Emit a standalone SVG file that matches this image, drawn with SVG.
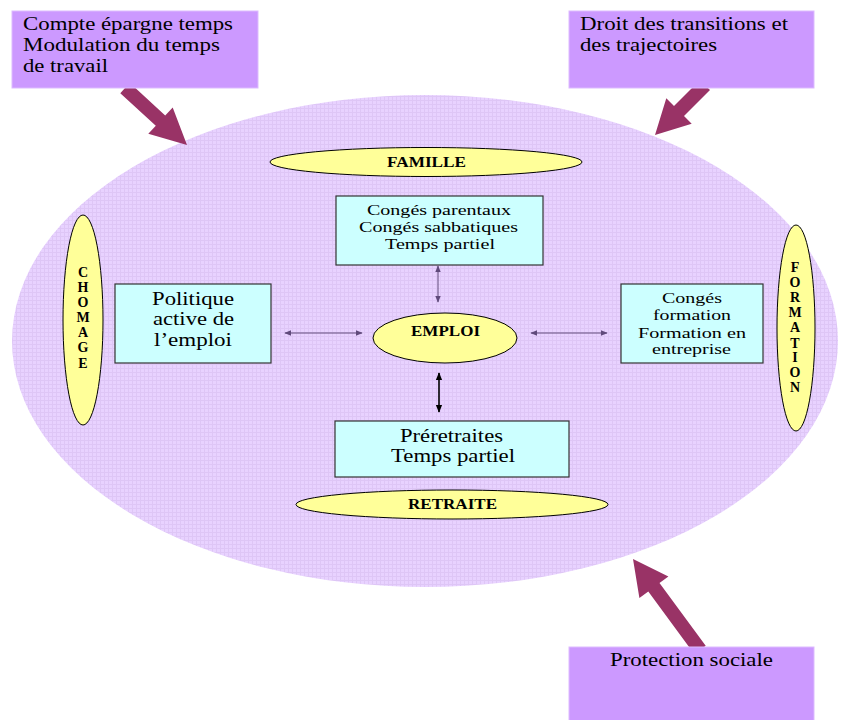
<svg xmlns="http://www.w3.org/2000/svg" width="843" height="720" viewBox="0 0 843 720">
<defs>
<style>
.pbox{fill:#CC99FF;stroke:#DDBBFF;stroke-width:1}
.cbox{fill:#CCFFFF;stroke:#333333;stroke-width:1.2}
.yel{fill:#FFFF99;stroke:#000000;stroke-width:1}
.big{fill:#993366}
text{font-family:'Liberation Serif','Times New Roman',serif;fill:#000}
.t19{font-size:19px}
.t16{font-size:15.5px}
.b{font-weight:bold;font-size:14px}
.v{font-weight:bold;font-size:14px;text-anchor:middle}
.con{stroke:#604A7B;stroke-width:1;fill:none}
.conk{stroke:#000;stroke-width:1.6;fill:none}
</style>
<pattern id="grid" width="4" height="4" patternUnits="userSpaceOnUse">
<rect width="4" height="4" fill="#E8D2FF"/>
<path d="M0 0.5H4M0.5 0V4" stroke="#DEC6F6" stroke-width="1"/>
</pattern>
<marker id="ap" viewBox="0 0 10 10" refX="9" refY="5" markerWidth="7" markerHeight="7" orient="auto-start-reverse" markerUnits="userSpaceOnUse">
<path d="M0 1L10 5L0 9z" fill="#604A7B"/>
</marker>
<marker id="ak" viewBox="0 0 10 10" refX="9" refY="5" markerWidth="8" markerHeight="8" orient="auto-start-reverse" markerUnits="userSpaceOnUse">
<path d="M0 1L10 5L0 9z" fill="#000"/>
</marker>
</defs>
<rect width="843" height="720" fill="#FFFFFF"/>

<g id="sphere">
<ellipse cx="425" cy="341" rx="413" ry="246" fill="url(#grid)"/>
</g>

<g id="connectors">
<polygon class="big" points="120.3,93.2 155.8,125.8 148.3,133.8 187,145 172.7,107.4 165.2,115.4 129.7,82.8"/>
<polygon class="big" points="710,90 684,116 691.7,123.7 655,135 666.3,98.3 674,106 700,80"/>
<polygon class="big" points="705.7,645.8 659.5,583 668.4,576.5 633,559 639.4,597.9 648.3,591.4 694.4,654.2"/>
<line class="con" x1="438" y1="266" x2="438" y2="302" marker-start="url(#ap)" marker-end="url(#ap)"/>
<line class="con" x1="285" y1="333" x2="362" y2="333" marker-start="url(#ap)" marker-end="url(#ap)"/>
<line class="con" x1="531" y1="333" x2="607" y2="333" marker-start="url(#ap)" marker-end="url(#ap)"/>
<line class="conk" x1="439" y1="373" x2="439" y2="412" marker-start="url(#ak)" marker-end="url(#ak)"/>
</g>

<g id="compte">
<rect class="pbox" x="12" y="11" width="246" height="77"/>
<text class="t19" x="23" y="30" textLength="210" lengthAdjust="spacingAndGlyphs">Compte épargne temps</text>
<text class="t19" x="23" y="51" textLength="197" lengthAdjust="spacingAndGlyphs">Modulation du temps</text>
<text class="t19" x="23" y="72" textLength="85" lengthAdjust="spacingAndGlyphs">de travail</text>
</g>

<g id="droit">
<rect class="pbox" x="569" y="11" width="245" height="77"/>
<text class="t19" x="580" y="30" textLength="208" lengthAdjust="spacingAndGlyphs">Droit des transitions et</text>
<text class="t19" x="580" y="51" textLength="137" lengthAdjust="spacingAndGlyphs">des trajectoires</text>
</g>

<g id="protection">
<rect class="pbox" x="569" y="647" width="245" height="80"/>
<text class="t19" x="610" y="666" textLength="163" lengthAdjust="spacingAndGlyphs">Protection sociale</text>
</g>

<g id="famille">
<ellipse class="yel" cx="426" cy="162" rx="156" ry="14.5"/>
<text class="b" x="387" y="167" textLength="79" lengthAdjust="spacingAndGlyphs">FAMILLE</text>
</g>

<g id="conges-parentaux">
<rect class="cbox" x="336" y="196" width="207" height="69"/>
<text class="t16" x="367" y="215" textLength="144" lengthAdjust="spacingAndGlyphs">Congés parentaux</text>
<text class="t16" x="359" y="232" textLength="159" lengthAdjust="spacingAndGlyphs">Congés sabbatiques</text>
<text class="t16" x="385" y="249" textLength="110" lengthAdjust="spacingAndGlyphs">Temps partiel</text>
</g>

<g id="chomage">
<ellipse class="yel" cx="83" cy="320" rx="20" ry="105"/>
<text class="v" x="83" y="277">C</text>
<text class="v" x="83" y="292">H</text>
<text class="v" x="83" y="307">O</text>
<text class="v" x="83" y="322">M</text>
<text class="v" x="83" y="337">A</text>
<text class="v" x="83" y="352">G</text>
<text class="v" x="83" y="368">E</text>
</g>

<g id="politique">
<rect class="cbox" x="115" y="284" width="156" height="79"/>
<text class="t19" x="152" y="305" textLength="82" lengthAdjust="spacingAndGlyphs">Politique</text>
<text class="t19" x="153" y="325" textLength="81" lengthAdjust="spacingAndGlyphs">active de</text>
<text class="t19" x="154" y="346" textLength="78" lengthAdjust="spacingAndGlyphs">l’emploi</text>
</g>

<g id="emploi">
<ellipse class="yel" cx="445" cy="338" rx="72" ry="25"/>
<text class="b" x="411" y="336" textLength="69" lengthAdjust="spacingAndGlyphs">EMPLOI</text>
</g>

<g id="conges-formation">
<rect class="cbox" x="621" y="284" width="142" height="79"/>
<text class="t16" x="662" y="303" textLength="60" lengthAdjust="spacingAndGlyphs">Congés</text>
<text class="t16" x="653" y="320" textLength="78" lengthAdjust="spacingAndGlyphs">formation</text>
<text class="t16" x="638" y="338" textLength="108" lengthAdjust="spacingAndGlyphs">Formation en</text>
<text class="t16" x="652" y="354" textLength="79" lengthAdjust="spacingAndGlyphs">entreprise</text>
</g>

<g id="formation">
<ellipse class="yel" cx="796" cy="328" rx="19" ry="103"/>
<text class="v" x="795" y="272">F</text>
<text class="v" x="795" y="287">O</text>
<text class="v" x="795" y="302">R</text>
<text class="v" x="795" y="317">M</text>
<text class="v" x="795" y="332">A</text>
<text class="v" x="795" y="348">T</text>
<text class="v" x="795" y="362">I</text>
<text class="v" x="795" y="377">O</text>
<text class="v" x="795" y="392">N</text>
</g>

<g id="preretraites">
<rect class="cbox" x="335" y="421" width="234" height="56"/>
<text class="t19" x="400" y="442" textLength="103" lengthAdjust="spacingAndGlyphs">Préretraites</text>
<text class="t19" x="391" y="462" textLength="124" lengthAdjust="spacingAndGlyphs">Temps partiel</text>
</g>

<g id="retraite">
<ellipse class="yel" cx="452" cy="504.5" rx="156" ry="14.5"/>
<text class="b" x="408" y="509" textLength="89" lengthAdjust="spacingAndGlyphs">RETRAITE</text>
</g>
</svg>
